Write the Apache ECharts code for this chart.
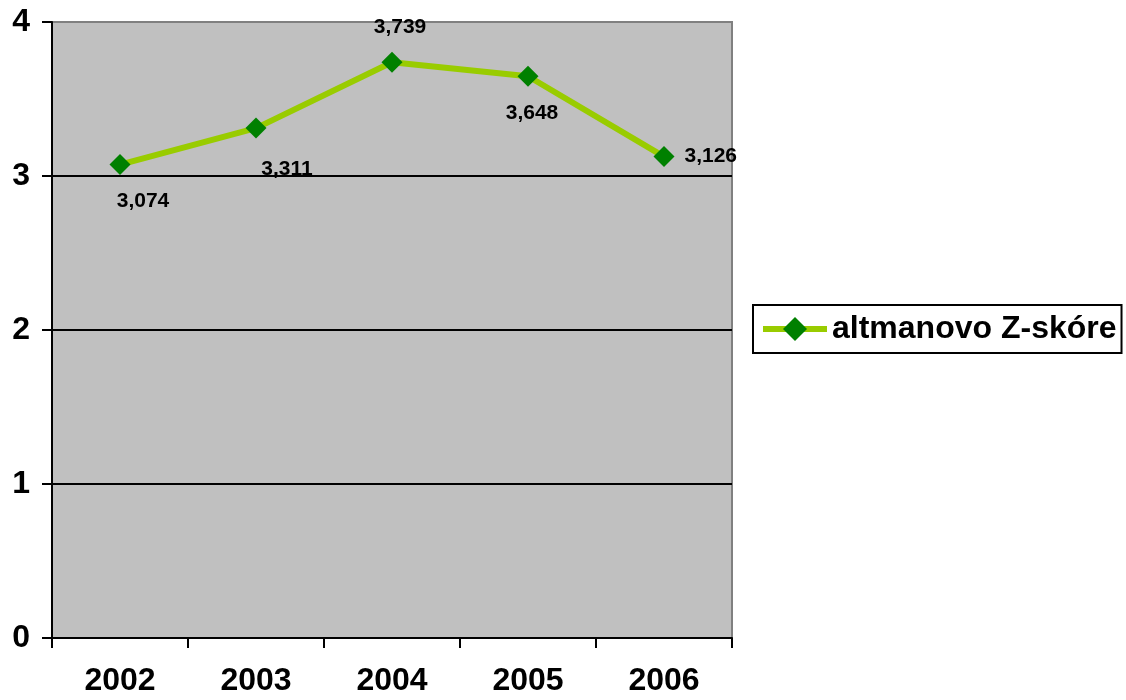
<!DOCTYPE html>
<html>
<head>
<meta charset="utf-8">
<script src="https://cdn.jsdelivr.net/npm/echarts@6/dist/echarts.min.js"></script>
<style>
  html, body { margin: 0; padding: 0; background: #ffffff; }
  #chart { width: 1126px; height: 700px; }
</style>
</head>
<body>
<div id="chart"></div>
<script>
// Altman Z-score by year
const years = ['2002', '2003', '2004', '2005', '2006'];
const zScores = [3.074, 3.311, 3.739, 3.648, 3.126];
const seriesName = 'altmanovo Z-skóre';
const yTicks = { min: 0, max: 4, interval: 1 };

// where each value label sits around its marker
const labelPlacement = [
  { position: 'bottom', distance: 16, offset: [23, 0] },
  { position: 'bottom', distance: 20, offset: [31, 0] },
  { position: 'top', distance: 14, offset: [8, 0] },
  { position: 'bottom', distance: 16, offset: [4, 0] },
  { position: 'right', distance: 10, offset: [0, 0] }
];

const FONT = 'Arial, "Liberation Sans", sans-serif';

const seriesData = zScores.map((v, i) => ({
  value: v,
  label: labelPlacement[i]
}));

const chart = echarts.init(document.getElementById('chart'), null, { renderer: 'canvas' });

chart.setOption({
  animation: false,
  backgroundColor: '#ffffff',
  grid: {
    left: 52, right: 394, top: 22, bottom: 62,
    show: true,
    backgroundColor: '#c0c0c0',
    borderColor: '#808080',
    borderWidth: 2
  },
  legend: {
    data: [seriesName],
    left: 753, top: 305,
    orient: 'vertical',
    backgroundColor: '#ffffff',
    borderColor: '#000000',
    borderWidth: 2,
    padding: [8, 5, 8, 7],
    itemWidth: 64,
    itemHeight: 30,
    lineStyle: { width: 6, color: '#99cc00' },
    textStyle: { fontFamily: FONT, fontSize: 32, fontWeight: 'bold', color: '#000000' }
  },
  xAxis: {
    type: 'category',
    data: years,
    boundaryGap: true,
    axisLine: { lineStyle: { color: '#000000', width: 2 } },
    axisTick: { show: true, length: 10, alignWithLabel: false, lineStyle: { color: '#000000', width: 2 } },
    axisLabel: { margin: 27, fontFamily: FONT, fontSize: 32, fontWeight: 'bold', color: '#000000' },
    splitLine: { show: false }
  },
  yAxis: {
    type: 'value',
    min: yTicks.min, max: yTicks.max, interval: yTicks.interval,
    axisLine: { show: true, lineStyle: { color: '#000000', width: 2 } },
    axisTick: { show: true, length: 10, lineStyle: { color: '#000000', width: 2 } },
    axisLabel: { margin: 22, fontFamily: FONT, fontSize: 32, fontWeight: 'bold', color: '#000000' },
    splitLine: { show: true, showMinLine: false, showMaxLine: false, lineStyle: { color: '#000000', width: 2 } }
  },
  series: [{
    name: seriesName,
    type: 'line',
    data: seriesData,
    symbol: 'diamond',
    symbolSize: 21,
    lineStyle: { color: '#99cc00', width: 6 },
    itemStyle: { color: '#008000' },
    label: {
      show: true,
      fontFamily: FONT,
      fontSize: 21,
      fontWeight: 'bold',
      color: '#000000',
      formatter: p => p.value.toFixed(3).replace('.', ',')
    },
    z: 3
  }]
});
</script>
</body>
</html>
